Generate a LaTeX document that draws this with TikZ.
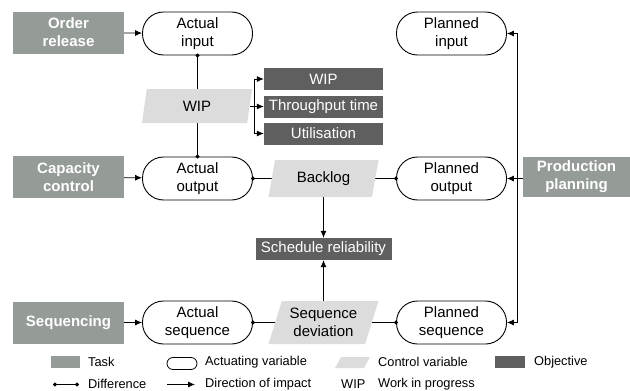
\documentclass[tikz,border=0pt]{standalone}
\usepackage{fontspec}
\setmainfont{Liberation Sans}
\usetikzlibrary{shapes.geometric,arrows.meta,backgrounds,positioning}
\definecolor{taskgray}{RGB}{149,155,151}
\definecolor{objgray}{RGB}{95,95,95}
\definecolor{ctrlgray}{RGB}{220,220,220}
\tikzset{
  task/.style={fill=taskgray,text=white,font=\fontsize{15}{18}\selectfont\bfseries,
    minimum width=111pt,minimum height=42pt,align=center,inner sep=0pt},
  actuating/.style={draw,line width=0.9pt,rounded corners=21pt,minimum width=110pt,
    minimum height=43pt,align=center,inner sep=0pt},
  controlvar/.style={trapezium,trapezium left angle=65,trapezium right angle=115,
    trapezium stretches body,fill=ctrlgray,minimum width=110pt,align=center,inner sep=0pt},
  objective/.style={fill=objgray,text=white,minimum width=119pt,minimum height=22pt,inner sep=0pt},
  impact/.style={-{Latex[length=7pt,width=6pt]},line width=0.8pt},
  difference/.style={{Circle[length=4pt]}-{Circle[length=4pt]},line width=0.8pt,
    shorten <=-2pt,shorten >=-2pt},
  legendtext/.style={anchor=west,font=\fontsize{12.8}{15}\selectfont,inner sep=0pt}
}

\begin{document}
\begin{tikzpicture}[x=1pt,y=-1pt,font=\fontsize{15}{18}\selectfont]
\useasboundingbox (0,0) rectangle (630,391);
% Tasks
\node[task] (orel) at (68.5,32.5) {Order\\release};
\node[task] (capc) at (68.5,177) {Capacity\\control};
\node[task] (seqg) at (68.5,322.5) {Sequencing};
\node[task,minimum width=107pt,minimum height=40pt] (prodp) at (576.5,177) {Production\\planning};
% Actuating variables
\node[actuating] (actin) at (197.5,33.5) {Actual\\input};
\node[actuating] (actout) at (197.5,178.5) {Actual\\output};
\node[actuating] (actseq) at (197.5,322.5) {Actual\\sequence};
\node[actuating] (planin) at (451.5,33.5) {Planned\\input};
\node[actuating] (planout) at (451.5,178.5) {Planned\\output};
\node[actuating] (planseq) at (451.5,322.5) {Planned\\sequence};
% Control variables
\node[controlvar,minimum height=34pt] (wip) at (197,106) {WIP};
\node[controlvar,minimum height=37pt] (backlog) at (323.5,178.5) {Backlog};
\node[controlvar,minimum height=43pt] (seqdev) at (323.5,322.5) {Sequence\\deviation};
% Objectives
\node[objective] (obwip) at (323.5,79) {WIP};
\node[objective] (obtpt) at (323.5,106.5) {Throughput time};
\node[objective] (obutil) at (323.5,133.5) {Utilisation};
\node[objective,minimum width=136pt] (obsr) at (323.5,249) {Schedule reliability};
% Direction of impact
\draw[impact] (orel) -- (actin);
\draw[impact] (capc) -- (actout);
\draw[impact] (seqg) -- (actseq);
\coordinate (branch) at (254.5,106.5);
\draw[line width=0.8pt] (wip.east |- branch) -- (branch);
\draw[impact] (branch) |- (obwip.west);
\draw[impact] (branch) -- (obtpt.west);
\draw[impact] (branch) |- (obutil.west);
\draw[impact] (backlog.south) -- (obsr.north);
\draw[impact] (seqdev.north) -- (obsr.south);
\coordinate (ppline) at (517.5,178.5);
\draw[impact] (prodp.west |- ppline) -- (planout.east);
\draw[impact] (ppline) |- (planin.east);
\draw[impact] (ppline) |- (planseq.east);
% Differences
\begin{scope}[on background layer]
\draw[difference] (actin.south) -- (actout.north);
\draw[difference] (actout.east) -- (planout.west);
\draw[difference] (actseq.east) -- (planseq.west);
\end{scope}
% Legend
\fill[taskgray] (51,356) rectangle (80,368);
\node[legendtext] (ltask) at (88,362) {Task};
\draw[line width=0.8pt,rounded corners=6pt] (167,357.5) rectangle (197,369.5);
\node[legendtext] (lact) at (205,362) {Actuating variable};
\fill[ctrlgray] (335,368) -- (341,357) -- (370,357) -- (364,368) -- cycle;
\node[legendtext] (lctrl) at (378,362) {Control variable};
\fill[objgray] (495,356) rectangle (525,368);
\node[legendtext] (lobj) at (534,362) {Objective};
\coordinate (ldiffa) at (53,384.5);
\coordinate (ldiffb) at (79,384.5);
\draw[{Circle[length=4pt]}-{Circle[length=4pt]},line width=0.8pt] (ldiffa) -- (ldiffb);
\node[legendtext] (ldiff) at (88,384) {Difference};
\coordinate (limpa) at (167,384.5);
\coordinate (limpb) at (195,384.5);
\draw[impact] (limpa) -- (limpb);
\node[legendtext] (limp) at (205,384) {Direction of impact};
\node[legendtext] (lwipab) at (341,384) {WIP};
\node[legendtext] (lwip) at (378,384) {Work in progress};
\end{tikzpicture}
\end{document}
